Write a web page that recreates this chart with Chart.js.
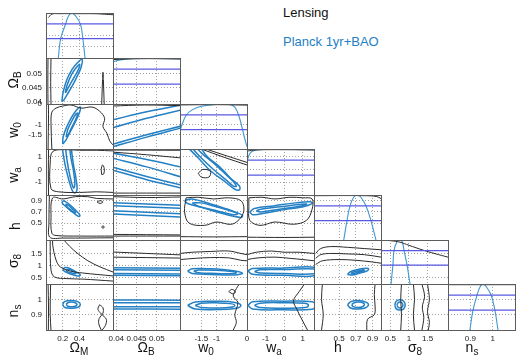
<!DOCTYPE html>
<html>
<head>
<meta charset="utf-8">
<script src="https://cdn.jsdelivr.net/npm/chart.js@4.4.0/dist/chart.umd.min.js"></script>
<style>
  body { margin: 0; background: #fff; width: 520px; height: 360px; overflow: hidden; position: relative;
         font-family: "Liberation Sans", Arial, Helvetica, sans-serif; }
  canvas { position: absolute; }
  .ttl { position: absolute; font-size: 14px; line-height: 14px; color: #111; white-space: nowrap; }
  .ttl sub { font-size: 10px; vertical-align: -3px; }
  .leg { position: absolute; font-size: 13px; line-height: 15px; white-space: nowrap; }
</style>
</head>
<body>
<script>
// ---- parameters / axes ----
const paramTitles = ['Ω<sub>M</sub>', 'Ω<sub>B</sub>', 'w<sub>0</sub>', 'w<sub>a</sub>', 'h', 'σ<sub>8</sub>', 'n<sub>s</sub>'];
const ranges = [[0, 0.8], [0.0392, 0.0557], [-2.2, 0], [-2, 1.6], [0.2, 1.0], [0.25, 2.05], [0.8, 1.1]];
const tickVals = [[0.2, 0.4], [0.04, 0.045, 0.05], [-1.5, -1, 0], [-1, 0, 1], [0.5, 0.7, 0.9], [0.5, 1, 1.5], [0.9, 1]];
const tickText = [['0.2', '0.4'], ['0.04', '0.045', '0.05'], ['-1.5', '-1', '0'], ['-1', '0', '1'],
                  ['0.5', '0.7', '0.9'], ['0.5', '1', '1.5'], ['0.9', '1']];
const legendText = ['Lensing', 'Planck 1yr+BAO'];
const levels1d = [0.76, 0.43];

// ---- 1D marginals (diagonal) ----
const omM_blue1d = [[0.147,0],[0.175,0.43],[0.235,0.76],[0.27,0.94],[0.31,0.995],[0.35,0.94],[0.41,0.76],[0.44,0.43],[0.466,0]];
const omM_black1d = [[0.03,0.9],[0.07,0.975],[0.15,0.985],[0.4,0.985],[0.6,0.983],[0.7,0.972],[0.8,0.962]];
const omB_blue1d = [[0.0392,0.92],[0.041,0.96],[0.044,0.985],[0.05,0.99],[0.0557,0.98]];
const omB_black1d = [[0.0392,0.965],[0.045,0.985],[0.0557,0.98]];
const w0_blue1d = [[-2.2,0.42],[-2.0,0.75],[-1.8,0.87],[-1.5,0.95],[-1.0,0.99],[-0.6,0.995],[-0.4,0.93],[-0.25,0.7],[-0.1,0.3],[0,0.05]];
const w0_black1d = [[-2.2,0.98],[-1.0,0.985],[0,0.975]];
const wa_blue1d = [[-2,0.72],[-1.85,0.9],[-1.6,0.97],[-1,0.99],[0,0.99],[1,0.985],[1.6,0.98]];
const wa_black1d = [[-2,0.955],[-1.5,0.98],[0,0.985],[1.6,0.98]];
const h_blue1d = [[0.555,0],[0.594,0.43],[0.63,0.76],[0.67,0.94],[0.713,0.995],[0.76,0.95],[0.82,0.76],[0.88,0.43],[0.94,0]];
const h_black1d = [[0.2,0.985],[0.8,0.985],[0.95,0.965],[1.0,0.92]];
const s8_blue1d = [[0.52,0],[0.57,0.43],[0.60,0.76],[0.68,0.96],[0.76,0.995],[0.82,0.96],[0.87,0.76],[0.95,0.43],[1.03,0]];
const s8_black1d = [[0.25,0.995],[0.5,0.985],[0.76,0.95],[1.0,0.88],[1.38,0.77],[1.7,0.69],[2.05,0.61]];
const ns_blue1d = [[0.898,0],[0.912,0.43],[0.93,0.76],[0.945,0.95],[0.957,0.995],[0.97,0.95],[0.993,0.76],[1.01,0.43],[1.024,0]];
const ns_black1d = [[0.8,0.985],[1.1,0.985]];

// ---- 2D contours: Ω_M column ----
const omB_omM_b95 = [[0.19,0.0402],[0.205,0.0435],[0.25,0.048],[0.31,0.0515],[0.37,0.0538],[0.43,0.0552],[0.42,0.0525],[0.37,0.049],[0.31,0.0455],[0.25,0.0425],[0.21,0.0405],[0.19,0.0402]];
const omB_omM_b68 = [[0.23,0.0432],[0.25,0.0458],[0.30,0.0495],[0.36,0.0522],[0.40,0.0535],[0.39,0.0518],[0.34,0.049],[0.28,0.0458],[0.24,0.0436],[0.23,0.0432]];
const omB_omM_k1 = [[0.024,0.039],[0.022,0.047],[0.024,0.056]];
const omB_omM_k2 = [[0.06,0.039],[0.056,0.047],[0.06,0.056]];
const omB_omM_k3 = [[0.665,0.039],[0.675,0.048],[0.68,0.0506],[0.685,0.048],[0.695,0.039]];

const w0_omM_b95 = [[0.20,-1.96],[0.205,-1.6],[0.25,-1.1],[0.31,-0.62],[0.37,-0.27],[0.41,-0.15],[0.40,-0.42],[0.35,-0.88],[0.29,-1.35],[0.24,-1.75],[0.20,-1.96]];
const w0_omM_b68 = [[0.24,-1.62],[0.26,-1.25],[0.31,-0.82],[0.36,-0.48],[0.38,-0.45],[0.35,-0.8],[0.30,-1.2],[0.26,-1.55],[0.24,-1.62]];
const w0_omM_k1 = [[0.025,-2.2],[0.03,-0.5],[0.028,0]];
const w0_omM_k2 = [[0.07,-2.2],[0.06,-1.0],[0.07,-0.4],[0.12,-0.2],[0.2,-0.1],[0.3,-0.05],[0.42,-0.2],[0.55,-0.15],[0.64,-0.35],[0.70,-0.7],[0.68,-1.1],[0.73,-1.45],[0.76,-1.8],[0.80,-2.0]];

const wa_omM_b95 = [[0.19,2.0],[0.21,1.0],[0.24,0],[0.28,-1.0],[0.31,-1.6],[0.34,-1.85],[0.37,-1.6],[0.36,-0.8],[0.33,0.3],[0.31,1.2],[0.30,2.0]];
const wa_omM_b68 = [[0.23,2.0],[0.245,1.0],[0.27,0],[0.30,-0.9],[0.33,-1.45],[0.345,-1.1],[0.325,0],[0.295,1.0],[0.28,2.0]];
const wa_omM_k1 = [[0.8,1.45],[0.6,1.5],[0.4,1.5],[0.22,1.55],[0.08,1.4],[0.05,0.5],[0.06,-1.5],[0.15,-1.75],[0.4,-1.8],[0.6,-1.75],[0.8,-1.8]];
const wa_omM_k2 = [[0.03,-2],[0.028,0],[0.03,1.6]];
const wa_omM_k3 = [[0.665,-0.4],[0.66,0.0],[0.675,0.35],[0.695,0.1],[0.69,-0.35],[0.665,-0.4]];

const h_omM_b95 = [[0.19,0.88],[0.215,0.895],[0.27,0.845],[0.34,0.75],[0.405,0.64],[0.39,0.62],[0.33,0.68],[0.26,0.765],[0.20,0.845],[0.19,0.88]];
const h_omM_b68 = [[0.235,0.84],[0.27,0.815],[0.32,0.745],[0.355,0.69],[0.34,0.685],[0.29,0.74],[0.245,0.80],[0.235,0.84]];
const h_omM_k1 = [[0.8,0.93],[0.6,0.94],[0.5,0.97],[0.35,0.97],[0.2,0.93],[0.08,0.95],[0.06,0.6],[0.07,0.32],[0.12,0.28],[0.4,0.27],[0.8,0.27]];
const h_omM_k2 = [[0.04,1.0],[0.035,0.5],[0.045,0.25],[0.2,0.235],[0.8,0.24]];
const h_omM_k3 = [[0.61,0.875],[0.645,0.9],[0.68,0.875],[0.645,0.85],[0.61,0.875]];
const h_omM_k4 = [[0.665,0.43],[0.68,0.455],[0.695,0.43],[0.68,0.405],[0.665,0.43]];

const s8_omM_b95 = [[0.20,0.85],[0.23,0.92],[0.30,0.86],[0.37,0.72],[0.41,0.62],[0.38,0.58],[0.30,0.65],[0.22,0.77],[0.20,0.85]];
const s8_omM_b68 = [[0.24,0.82],[0.27,0.85],[0.32,0.78],[0.36,0.70],[0.34,0.67],[0.29,0.72],[0.25,0.77],[0.24,0.82]];
const s8_omM_k1 = [[0.2,2.1],[0.28,1.8],[0.37,1.52],[0.5,1.2],[0.645,0.95],[0.8,0.74]];
const s8_omM_k2 = [[0.08,2.1],[0.08,1.84],[0.12,1.23],[0.17,0.95],[0.29,0.78],[0.44,0.70],[0.8,0.58]];
const s8_omM_k3 = [[0.05,2.1],[0.05,1.84],[0.06,0.82],[0.10,0.54],[0.25,0.47],[0.44,0.45],[0.8,0.37]];

const ns_omM_b95 = [[0.20,0.967],[0.22,0.985],[0.30,0.992],[0.38,0.985],[0.41,0.967],[0.38,0.948],[0.30,0.942],[0.22,0.948],[0.20,0.967]];
const ns_omM_b68 = [[0.24,0.967],[0.26,0.978],[0.30,0.982],[0.35,0.978],[0.37,0.967],[0.35,0.955],[0.30,0.952],[0.26,0.955],[0.24,0.967]];
const ns_omM_k1 = [[0.025,1.1],[0.03,0.95],[0.028,0.8]];
const ns_omM_k2 = [[0.055,1.1],[0.05,0.9],[0.06,0.8]];
const ns_omM_k3 = [[0.64,0.965],[0.62,0.935],[0.66,0.905],[0.72,0.87],[0.71,0.83],[0.67,0.8]];
const ns_omM_k4 = [[0.64,0.965],[0.68,0.945],[0.68,0.91],[0.635,0.875],[0.63,0.84],[0.66,0.8]];

// ---- Ω_B column (band edges) ----
const w0_omB_b95u = [[0.039,-0.78],[0.0475,-0.38],[0.056,-0.05]];
const w0_omB_b68u = [[0.039,-1.17],[0.0475,-0.70],[0.056,-0.29]];
const w0_omB_b68l = [[0.039,-1.98],[0.0475,-1.50],[0.056,-1.08]];
const w0_omB_b95l = [[0.039,-2.1],[0.0475,-1.62],[0.056,-1.17]];
const w0_omB_k1 = [[0.039,-0.1],[0.047,-0.05],[0.056,-0.08]];

const wa_omB_b95u = [[0.039,1.29],[0.0475,0.78],[0.056,0.19]];
const wa_omB_b68u = [[0.039,0.9],[0.0475,0.2],[0.056,-0.59]];
const wa_omB_b68l = [[0.039,0.19],[0.0475,-0.55],[0.056,-1.22]];
const wa_omB_b95l = [[0.039,-0.04],[0.0475,-0.8],[0.056,-1.45]];
const wa_omB_k1 = [[0.039,1.52],[0.056,1.5]];
const wa_omB_k2 = [[0.039,1.36],[0.0475,1.15],[0.056,0.9]];
const wa_omB_k3 = [[0.039,-1.85],[0.056,-1.85]];

const h_omB_b95u = [[0.039,0.865],[0.056,0.815]];
const h_omB_b68u = [[0.039,0.81],[0.056,0.765]];
const h_omB_b68l = [[0.039,0.72],[0.056,0.665]];
const h_omB_b95l = [[0.039,0.665],[0.056,0.61]];
const h_omB_k1 = [[0.039,0.97],[0.0475,0.955],[0.056,0.965]];
const h_omB_k2 = [[0.039,0.27],[0.056,0.27]];
const h_omB_k3 = [[0.039,0.30],[0.056,0.29]];

const s8_omB_b95u = [[0.039,0.91],[0.056,0.89]];
const s8_omB_b68u = [[0.039,0.83],[0.056,0.81]];
const s8_omB_b68l = [[0.039,0.68],[0.056,0.66]];
const s8_omB_b95l = [[0.039,0.61],[0.056,0.59]];
const s8_omB_k1 = [[0.039,1.56],[0.0475,1.5],[0.056,1.44]];
const s8_omB_k2 = [[0.039,1.35],[0.056,1.31]];

const ns_omB_b95u = [[0.039,0.996],[0.056,0.994]];
const ns_omB_b68u = [[0.039,0.978],[0.056,0.977]];
const ns_omB_b68l = [[0.039,0.952],[0.056,0.951]];
const ns_omB_b95l = [[0.039,0.937],[0.056,0.936]];

// ---- w_0 column ----
const wa_w0_b95 = [[-1.98,1.8],[-1.6,0.9],[-1.2,-0.1],[-0.7,-1.0],[-0.4,-1.55],[-0.25,-1.6],[-0.25,-1.3],[-0.6,-0.6],[-1.0,0.3],[-1.5,1.3],[-1.7,1.8]];
const wa_w0_b68 = [[-1.85,1.8],[-1.5,0.9],[-1.1,0.0],[-0.7,-0.8],[-0.45,-1.3],[-0.35,-1.3],[-0.5,-0.8],[-0.9,0.2],[-1.3,1.0],[-1.55,1.8]];
const wa_w0_k1 = [[-1.6,-0.3],[-1.45,0.0],[-1.2,-0.15],[-1.25,-0.6],[-1.5,-0.6],[-1.6,-0.3]];
const wa_w0_k2 = [[-1.5,1.6],[-0.75,0.95],[0,0.35]];
const wa_w0_k3 = [[-1.35,1.6],[-0.65,1.05],[0,0.55]];

const h_w0_b95 = [[-2.05,0.9],[-1.8,0.93],[-1.2,0.84],[-0.5,0.72],[-0.15,0.64],[-0.2,0.6],[-0.8,0.67],[-1.5,0.78],[-1.95,0.85],[-2.05,0.9]];
const h_w0_b68 = [[-1.8,0.86],[-1.5,0.86],[-1.0,0.79],[-0.5,0.71],[-0.3,0.67],[-0.45,0.65],[-1.0,0.72],[-1.6,0.8],[-1.8,0.86]];
const h_w0_k1 = [[-2.0,0.95],[-1.6,0.96],[-1.1,0.93],[-0.6,0.95],[-0.2,0.9],[-0.1,0.75],[-0.2,0.6],[-0.5,0.48],[-1.0,0.52],[-1.4,0.46],[-1.9,0.5],[-2.05,0.7],[-2.0,0.95]];
const h_w0_k2 = [[-2.2,0.26],[-1.1,0.255],[0,0.26]];

const s8_w0_b95 = [[-1.95,0.78],[-1.8,0.87],[-1.2,0.87],[-0.5,0.80],[-0.15,0.69],[-0.4,0.62],[-1.2,0.64],[-1.8,0.68],[-1.95,0.78]];
const s8_w0_b68 = [[-1.75,0.77],[-1.6,0.82],[-1.0,0.81],[-0.5,0.76],[-0.35,0.71],[-0.5,0.67],[-1.0,0.68],[-1.6,0.71],[-1.75,0.77]];
const s8_w0_k1 = [[-2.2,1.5],[-1.8,1.55],[-1.2,1.58],[-0.6,1.6],[-0.2,1.5],[0,1.45]];
const s8_w0_k2 = [[-2.2,1.25],[-1.7,1.3],[-1.2,1.33],[-0.6,1.32],[-0.2,1.22],[0,1.2]];

const ns_w0_b95 = [[-1.95,0.96],[-1.7,0.983],[-1.0,0.987],[-0.4,0.98],[-0.2,0.96],[-0.4,0.94],[-1.0,0.933],[-1.7,0.937],[-1.95,0.96]];
const ns_w0_b68 = [[-1.7,0.96],[-1.5,0.974],[-1.0,0.977],[-0.55,0.972],[-0.4,0.96],[-0.55,0.948],[-1.0,0.944],[-1.5,0.946],[-1.7,0.96]];
const ns_w0_k1 = [[-0.6,1.05],[-0.5,1.065],[-0.38,1.05],[-0.45,1.035],[-0.6,1.05]];
const ns_w0_k2 = [[-0.25,1.1],[-0.35,1.07],[-0.45,1.02],[-0.3,0.98],[-0.4,0.9],[-0.35,0.85],[-0.45,0.8]];

// ---- w_a column ----
const h_wa_b95 = [[-1.85,0.70],[-1.6,0.76],[-0.5,0.81],[0.6,0.86],[1.4,0.88],[1.5,0.85],[1.0,0.79],[0,0.74],[-1.0,0.68],[-1.7,0.65],[-1.85,0.70]];
const h_wa_b68 = [[-1.5,0.72],[-1.2,0.75],[-0.2,0.79],[0.8,0.83],[1.2,0.84],[1.0,0.81],[0.2,0.77],[-0.8,0.72],[-1.3,0.70],[-1.5,0.72]];
const h_wa_k1 = [[-1.9,0.95],[-1.2,0.96],[-0.5,0.93],[0.3,0.96],[1.0,0.95],[1.5,0.93],[1.5,0.75],[1.2,0.55],[0.5,0.48],[-0.5,0.52],[-1.3,0.46],[-1.85,0.55],[-1.9,0.8],[-1.9,0.95]];
const h_wa_k2 = [[-2,0.25],[0,0.245],[1.6,0.25]];

const s8_wa_b95 = [[-1.95,0.78],[-1.7,0.88],[0,0.9],[1.7,0.92],[1.7,0.6],[0,0.61],[-1.7,0.65],[-1.95,0.78]];
const s8_wa_b68 = [[-1.6,0.76],[-1.3,0.83],[0,0.84],[1.7,0.86],[1.7,0.68],[0,0.68],[-1.3,0.7],[-1.6,0.76]];
const s8_wa_k1 = [[-2,1.45],[-1.5,1.55],[-0.7,1.6],[0,1.55],[0.8,1.55],[1.6,1.5]];
const s8_wa_k2 = [[-2,1.25],[-1.4,1.32],[-0.5,1.35],[0.3,1.3],[1.0,1.25],[1.6,1.2]];

const ns_wa_b95 = [[-1.95,0.96],[-1.7,0.984],[0,0.988],[1.5,0.984],[1.7,0.96],[1.5,0.936],[0,0.932],[-1.7,0.937],[-1.95,0.96]];
const ns_wa_b68 = [[-1.6,0.96],[-1.3,0.975],[0,0.978],[1.1,0.974],[1.3,0.96],[1.1,0.946],[0,0.942],[-1.3,0.946],[-1.6,0.96]];
const ns_wa_k1 = [[1.15,1.11],[0.8,1.05],[0.5,0.99],[0.7,0.93],[0.9,0.88],[1.25,0.8]];

// ---- h column ----
const s8_h_b95 = [[0.60,0.64],[0.63,0.74],[0.70,0.82],[0.79,0.88],[0.85,0.88],[0.84,0.80],[0.76,0.71],[0.66,0.62],[0.60,0.64]];
const s8_h_b68 = [[0.64,0.68],[0.67,0.74],[0.73,0.79],[0.79,0.83],[0.80,0.80],[0.76,0.75],[0.70,0.70],[0.65,0.66],[0.64,0.68]];
const s8_h_k1 = [[0.22,1.5],[0.28,1.7],[0.4,1.78],[0.6,1.75],[0.8,1.7],[1.0,1.65]];
const s8_h_k2 = [[0.22,1.3],[0.28,1.45],[0.4,1.5],[0.6,1.48],[0.8,1.45],[1.0,1.35]];
const s8_h_k3 = [[0.22,1.05],[0.3,1.2],[0.5,1.25],[0.7,1.22],[0.9,1.15],[1.0,1.1]];

const ns_h_b95 = [[0.60,0.965],[0.64,0.985],[0.73,0.992],[0.82,0.982],[0.85,0.962],[0.80,0.942],[0.70,0.937],[0.63,0.945],[0.60,0.965]];
const ns_h_b68 = [[0.65,0.965],[0.68,0.978],[0.73,0.982],[0.79,0.976],[0.80,0.962],[0.77,0.95],[0.72,0.947],[0.67,0.952],[0.65,0.965]];
const ns_h_k1 = [[0.3,1.1],[0.29,1.0],[0.31,0.9],[0.29,0.8]];
const ns_h_k2 = [[0.93,1.1],[0.92,1.03],[0.93,0.95],[0.92,0.9],[0.84,0.87],[0.83,0.8]];

// ---- σ_8 column ----
const ns_s8_b95 = [[0.62,0.963],[0.66,0.988],[0.76,0.997],[0.86,0.988],[0.90,0.963],[0.86,0.938],[0.76,0.93],[0.66,0.938],[0.62,0.963]];
const ns_s8_b68 = [[0.68,0.963],[0.71,0.978],[0.76,0.983],[0.81,0.978],[0.84,0.963],[0.81,0.948],[0.76,0.943],[0.71,0.948],[0.68,0.963]];
const ns_s8_k1 = [[0.8,1.1],[0.78,1.0],[0.8,0.9],[0.78,0.8]];
const ns_s8_k2 = [[1.12,1.1],[1.15,1.0],[1.12,0.9],[1.15,0.8]];
const ns_s8_k3 = [[1.35,1.1],[1.42,1.02],[1.36,0.95],[1.40,0.88],[1.35,0.8]];
const ns_s8_k4 = [[1.5,1.1],[1.55,1.0],[1.5,0.92],[1.55,0.85],[1.52,0.8]];

// ---- panel table (row = y parameter, col = x parameter) ----
const panels = [
  { r: 0, c: 0, diag: true, blue: [omM_blue1d], black: [omM_black1d] },
  { r: 1, c: 1, diag: true, blue: [omB_blue1d], black: [omB_black1d] },
  { r: 2, c: 2, diag: true, blue: [w0_blue1d], black: [w0_black1d] },
  { r: 3, c: 3, diag: true, blue: [wa_blue1d], black: [wa_black1d] },
  { r: 4, c: 4, diag: true, blue: [h_blue1d], black: [h_black1d] },
  { r: 5, c: 5, diag: true, blue: [s8_blue1d], black: [s8_black1d] },
  { r: 6, c: 6, diag: true, blue: [ns_blue1d], black: [ns_black1d] },
  { r: 1, c: 0, blue: [omB_omM_b95, omB_omM_b68], black: [omB_omM_k1, omB_omM_k2, omB_omM_k3] },
  { r: 2, c: 0, blue: [w0_omM_b95, w0_omM_b68], black: [w0_omM_k1, w0_omM_k2] },
  { r: 3, c: 0, blue: [wa_omM_b95, wa_omM_b68], black: [wa_omM_k1, wa_omM_k2, wa_omM_k3] },
  { r: 4, c: 0, blue: [h_omM_b95, h_omM_b68], black: [h_omM_k1, h_omM_k2, h_omM_k3, h_omM_k4] },
  { r: 5, c: 0, blue: [s8_omM_b95, s8_omM_b68], black: [s8_omM_k1, s8_omM_k2, s8_omM_k3] },
  { r: 6, c: 0, blue: [ns_omM_b95, ns_omM_b68], black: [ns_omM_k1, ns_omM_k2, ns_omM_k3, ns_omM_k4] },
  { r: 2, c: 1, blue: [w0_omB_b95u, w0_omB_b68u, w0_omB_b68l, w0_omB_b95l], black: [w0_omB_k1] },
  { r: 3, c: 1, blue: [wa_omB_b95u, wa_omB_b68u, wa_omB_b68l, wa_omB_b95l], black: [wa_omB_k1, wa_omB_k2, wa_omB_k3] },
  { r: 4, c: 1, blue: [h_omB_b95u, h_omB_b68u, h_omB_b68l, h_omB_b95l], black: [h_omB_k1, h_omB_k2, h_omB_k3] },
  { r: 5, c: 1, blue: [s8_omB_b95u, s8_omB_b68u, s8_omB_b68l, s8_omB_b95l], black: [s8_omB_k1, s8_omB_k2] },
  { r: 6, c: 1, blue: [ns_omB_b95u, ns_omB_b68u, ns_omB_b68l, ns_omB_b95l], black: [] },
  { r: 3, c: 2, blue: [wa_w0_b95, wa_w0_b68], black: [wa_w0_k1, wa_w0_k2, wa_w0_k3] },
  { r: 4, c: 2, blue: [h_w0_b95, h_w0_b68], black: [h_w0_k1, h_w0_k2] },
  { r: 5, c: 2, blue: [s8_w0_b95, s8_w0_b68], black: [s8_w0_k1, s8_w0_k2] },
  { r: 6, c: 2, blue: [ns_w0_b95, ns_w0_b68], black: [ns_w0_k1, ns_w0_k2] },
  { r: 4, c: 3, blue: [h_wa_b95, h_wa_b68], black: [h_wa_k1, h_wa_k2] },
  { r: 5, c: 3, blue: [s8_wa_b95, s8_wa_b68], black: [s8_wa_k1, s8_wa_k2] },
  { r: 6, c: 3, blue: [ns_wa_b95, ns_wa_b68], black: [ns_wa_k1] },
  { r: 5, c: 4, blue: [s8_h_b95, s8_h_b68], black: [s8_h_k1, s8_h_k2, s8_h_k3] },
  { r: 6, c: 4, blue: [ns_h_b95, ns_h_b68], black: [ns_h_k1, ns_h_k2] },
  { r: 6, c: 5, blue: [ns_s8_b95, ns_s8_b68], black: [ns_s8_k1, ns_s8_k2, ns_s8_k3, ns_s8_k4] },
];

// ---- layout ----
const colLeft = [46, 113, 180, 247, 314, 381, 448];
const colW = 67;
const rowTop = [13, 58, 104, 149, 195, 240, 284];
const rowBottom = [58, 104, 149, 195, 240, 284, 330];
const M = 12; // spare margin around every panel canvas

const BLUE = 'rgb(36,128,196)';
const BLUE1D = 'rgb(64,152,212)';
const LEVEL = 'rgb(88,88,228)';
const BLACK = '#2b2b2b';

Chart.defaults.font.family = "'Liberation Sans', Arial, Helvetica, sans-serif";
Chart.defaults.font.size = 8;
Chart.defaults.color = '#1a1a1a';

const framePlugin = {
  id: 'frame',
  afterDraw(chart) {
    const { ctx, chartArea: a } = chart;
    ctx.save();
    ctx.strokeStyle = '#5c5c5c';
    ctx.lineWidth = 1;
    ctx.strokeRect(a.left + 0.5, a.top + 0.5, a.right - a.left, a.bottom - a.top);
    ctx.restore();
  }
};

function line(pts, color, width, axis, tension) {
  return {
    data: pts.map(([x, y]) => ({ x, y })),
    borderColor: color, borderWidth: width, pointRadius: 0,
    showLine: true, fill: false, tension: tension, yAxisID: axis
  };
}

function makePanel(p) {
  const { r, c } = p;
  const showY = c === 0 && r > 0;
  const showX = r === 6;
  const padL = showY ? 46 : 0;
  const padB = showX ? 18 : 0;
  const ph = rowBottom[r] - rowTop[r];

  const cv = document.createElement('canvas');
  cv.width = colW + 2 * M + padL;
  cv.height = ph + 2 * M + padB;
  cv.style.left = (colLeft[c] - M - padL) + 'px';
  cv.style.top = (rowTop[r] - M) + 'px';
  document.body.appendChild(cv);

  const datasets = [];
  if (p.diag) {
    levels1d.forEach(lv => datasets.push(line([[ranges[c][0], lv], [ranges[c][1], lv]], LEVEL, 1.3, 'yp', 0)));
    p.black.forEach(d => datasets.push(line(d, BLACK, 1, 'yp', 0.4)));
    p.blue.forEach(d => datasets.push(line(d, BLUE1D, 1.1, 'yp', 0.4)));
  } else {
    p.black.forEach(d => datasets.push(line(d, BLACK, 1, 'y', 0.35)));
    p.blue.forEach(d => datasets.push(line(d, BLUE, 1.5, 'y', 0.4)));
  }

  const gridOpts = { color: '#a0a0a0', lineWidth: 1, drawTicks: false };

  new Chart(cv, {
    type: 'scatter',
    data: { datasets },
    options: {
      responsive: false, animation: false, events: [],
      layout: { autoPadding: false, padding: M },
      plugins: { legend: { display: false }, tooltip: { enabled: false } },
      scales: {
        x: {
          type: 'linear', position: 'bottom', min: ranges[c][0], max: ranges[c][1],
          afterBuildTicks: s => { s.ticks = tickVals[c].map(v => ({ value: v })); },
          afterFit: s => { s.height = padB; },
          grid: gridOpts, border: { display: false, dash: [1, 2] },
          ticks: { display: showX, padding: 4, maxRotation: 0, minRotation: 0, autoSkip: false,
                   callback: (v, i) => tickText[c][i] }
        },
        y: {
          type: 'linear', position: 'left', min: ranges[r][0], max: ranges[r][1],
          afterBuildTicks: s => { s.ticks = tickVals[r].map(v => ({ value: v })); },
          afterFit: s => { s.width = padL; },
          grid: gridOpts, border: { display: false, dash: [1, 2] },
          ticks: { display: showY, padding: 4, autoSkip: false,
                   callback: (v, i) => tickText[r][i] }
        },
        yp: { type: 'linear', min: 0, max: 1, display: false }
      }
    },
    plugins: [framePlugin]
  });
}

panels.forEach(makePanel);

// ---- axis titles (with subscripts) ----
const bottomTitleX = [79, 146, 206, 274, 338, 415, 472];
paramTitles.forEach((t, i) => {
  const d = document.createElement('div');
  d.className = 'ttl';
  d.innerHTML = t;
  d.style.left = bottomTitleX[i] + 'px';
  d.style.top = '340px';
  d.style.transform = 'translateX(-50%)';
  document.body.appendChild(d);
});
const leftTitleY = [null, 80, 130, 175, 226, 261, 311];
paramTitles.forEach((t, i) => {
  if (i === 0) return;
  const d = document.createElement('div');
  d.className = 'ttl';
  d.innerHTML = t;
  d.style.left = '15px';
  d.style.top = leftTitleY[i] + 'px';
  d.style.transform = 'translate(-50%,-50%) rotate(-90deg)';
  document.body.appendChild(d);
});

// ---- legend text ----
legendText.forEach((t, i) => {
  const d = document.createElement('div');
  d.className = 'leg';
  d.textContent = t;
  d.style.left = '283px';
  d.style.top = (i === 0 ? 5 : 34) + 'px';
  d.style.color = i === 0 ? '#111' : BLUE;
  document.body.appendChild(d);
});
</script>
</body>
</html>
